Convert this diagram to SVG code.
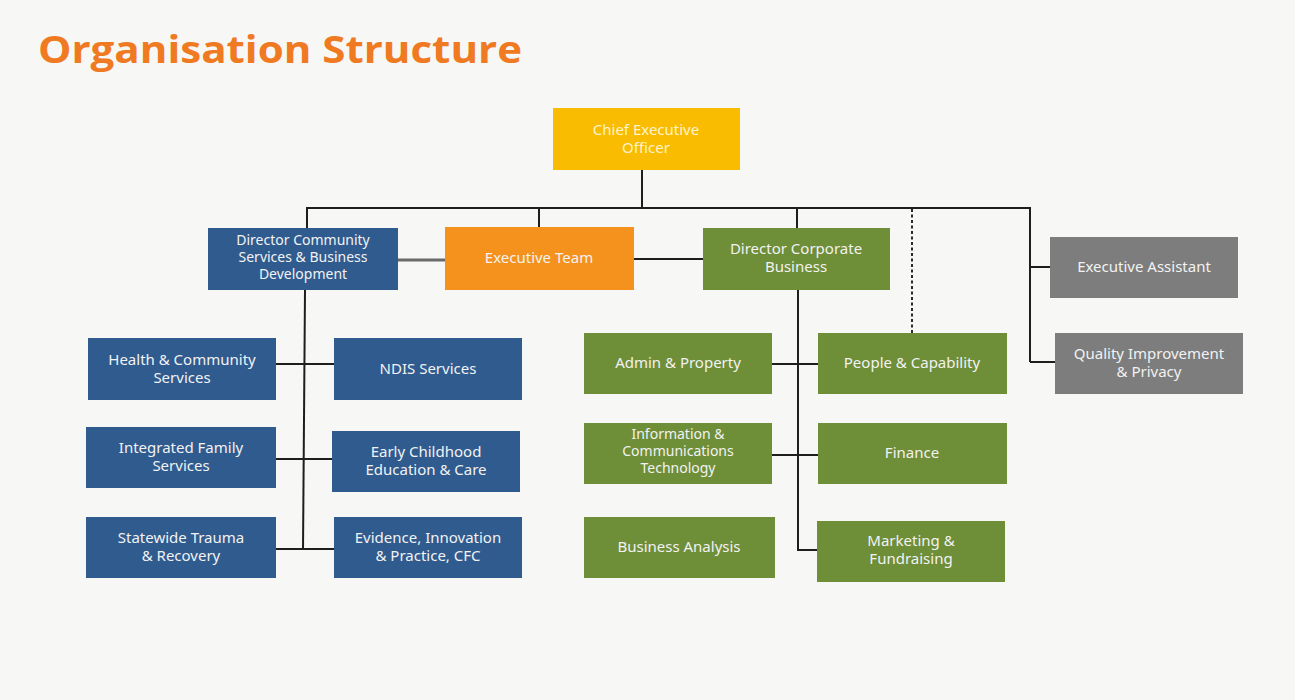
<svg xmlns="http://www.w3.org/2000/svg" width="1295" height="700" viewBox="0 0 1295 700">
  <style>
    .box { stroke: none; }
    .ceo { fill: #F9BC00; }
    .exec { fill: #F5921E; }
    .blue { fill: #2F5B8F; }
    .green { fill: #6F8E38; }
    .grey { fill: #7D7D7D; }
    .lbl { font-family: "Noto Sans", "Open Sans", "DejaVu Sans", sans-serif; font-size: 15px; fill: #F2F2F2; text-anchor: middle; }
    .sm { font-size: 14px; }
    .ceo-lbl { fill: #FFF3CF; }
    .title { font-family: "Open Sans", "Noto Sans", "Liberation Sans", sans-serif; font-weight: bold; font-size: 38px; fill: #F07A22; }
    .ln { fill: none; stroke: #1E1E1E; stroke-width: 2; stroke-linejoin: miter; }
    .ln-soft { fill: none; stroke: #6A6A6A; stroke-width: 3; }
    .dot { fill: none; stroke: #2A2A2A; stroke-width: 2; stroke-dasharray: 3 2.5; }
  </style>

  <!-- page background -->
  <rect x="0" y="0" width="1295" height="700" fill="#F7F7F5"/>

  <text class="title" x="38" y="63" textLength="484" lengthAdjust="spacingAndGlyphs">Organisation Structure</text>

  <!-- reporting lines -->
  <g id="connectors">
    <line class="ln" x1="642" y1="170" x2="642" y2="208"/>
    <path class="ln" d="M307 228 V208 H1030 V362"/>
    <line class="ln" x1="539" y1="208" x2="539" y2="227"/>
    <line class="ln" x1="797" y1="208" x2="797" y2="228"/>
    <line class="ln" x1="1030" y1="267" x2="1050" y2="267"/>
    <line class="ln" x1="1030" y1="362" x2="1055" y2="362"/>
    <line class="dot" x1="912" y1="209" x2="912" y2="333"/>
    <line class="ln-soft" x1="398" y1="260" x2="445" y2="260"/>
    <line class="ln" x1="634" y1="259" x2="703" y2="259"/>

    <!-- community services branch -->
    <line class="ln" x1="305" y1="290" x2="303" y2="550"/>
    <line class="ln" x1="276" y1="364" x2="334" y2="364"/>
    <line class="ln" x1="276" y1="459" x2="332" y2="459"/>
    <line class="ln" x1="276" y1="549" x2="334" y2="549"/>

    <!-- corporate business branch -->
    <path class="ln" d="M798 290 V550 H817"/>
    <line class="ln" x1="772" y1="364" x2="818" y2="364"/>
    <line class="ln" x1="772" y1="455" x2="818" y2="455"/>
  </g>

  <g id="ceo">
    <rect class="box ceo" x="553" y="108" width="187" height="62"/>
    <text class="lbl ceo-lbl" x="646" y="135">Chief Executive</text>
    <text class="lbl ceo-lbl" x="646" y="153">Officer</text>
  </g>

  <g id="director-community">
    <rect class="box blue" x="208" y="228" width="190" height="62"/>
    <text class="lbl sm" x="303" y="245">Director Community</text>
    <text class="lbl sm" x="303" y="262">Services &amp; Business</text>
    <text class="lbl sm" x="303" y="279">Development</text>
  </g>

  <g id="executive-team">
    <rect class="box exec" x="445" y="227" width="189" height="63"/>
    <text class="lbl" x="539" y="263">Executive Team</text>
  </g>

  <g id="director-corporate">
    <rect class="box green" x="703" y="228" width="187" height="62"/>
    <text class="lbl" x="796" y="254">Director Corporate</text>
    <text class="lbl" x="796" y="272">Business</text>
  </g>

  <g id="executive-assistant">
    <rect class="box grey" x="1050" y="237" width="188" height="61"/>
    <text class="lbl" x="1144" y="272">Executive Assistant</text>
  </g>

  <g id="quality-improvement">
    <rect class="box grey" x="1055" y="333" width="188" height="61"/>
    <text class="lbl" x="1149" y="359">Quality Improvement</text>
    <text class="lbl" x="1149" y="377">&amp; Privacy</text>
  </g>

  <g id="health-community">
    <rect class="box blue" x="88" y="338" width="188" height="62"/>
    <text class="lbl" x="182" y="365">Health &amp; Community</text>
    <text class="lbl" x="182" y="383">Services</text>
  </g>

  <g id="ndis">
    <rect class="box blue" x="334" y="338" width="188" height="62"/>
    <text class="lbl" x="428" y="374">NDIS Services</text>
  </g>

  <g id="integrated-family">
    <rect class="box blue" x="86" y="427" width="190" height="61"/>
    <text class="lbl" x="181" y="453">Integrated Family</text>
    <text class="lbl" x="181" y="471">Services</text>
  </g>

  <g id="early-childhood">
    <rect class="box blue" x="332" y="431" width="188" height="61"/>
    <text class="lbl" x="426" y="457">Early Childhood</text>
    <text class="lbl" x="426" y="475">Education &amp; Care</text>
  </g>

  <g id="statewide-trauma">
    <rect class="box blue" x="86" y="517" width="190" height="61"/>
    <text class="lbl" x="181" y="543">Statewide Trauma</text>
    <text class="lbl" x="181" y="561">&amp; Recovery</text>
  </g>

  <g id="evidence-innovation">
    <rect class="box blue" x="334" y="517" width="188" height="61"/>
    <text class="lbl" x="428" y="543">Evidence, Innovation</text>
    <text class="lbl" x="428" y="561">&amp; Practice, CFC</text>
  </g>

  <g id="admin-property">
    <rect class="box green" x="584" y="333" width="188" height="61"/>
    <text class="lbl" x="678" y="368">Admin &amp; Property</text>
  </g>

  <g id="people-capability">
    <rect class="box green" x="818" y="333" width="189" height="61"/>
    <text class="lbl" x="912" y="368">People &amp; Capability</text>
  </g>

  <g id="ict">
    <rect class="box green" x="584" y="423" width="188" height="61"/>
    <text class="lbl sm" x="678" y="439">Information &amp;</text>
    <text class="lbl sm" x="678" y="456">Communications</text>
    <text class="lbl sm" x="678" y="473">Technology</text>
  </g>

  <g id="finance">
    <rect class="box green" x="818" y="423" width="189" height="61"/>
    <text class="lbl" x="912" y="458">Finance</text>
  </g>

  <g id="business-analysis">
    <rect class="box green" x="584" y="517" width="191" height="61"/>
    <text class="lbl" x="679" y="552">Business Analysis</text>
  </g>

  <g id="marketing">
    <rect class="box green" x="817" y="521" width="188" height="61"/>
    <text class="lbl" x="911" y="546">Marketing &amp;</text>
    <text class="lbl" x="911" y="564">Fundraising</text>
  </g>
</svg>
